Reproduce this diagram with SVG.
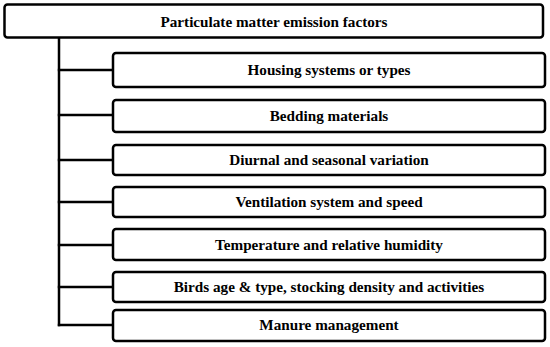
<svg xmlns="http://www.w3.org/2000/svg" width="550" height="347" viewBox="0 0 550 347">
<style>
.box{fill:#fff;stroke:#000;stroke-width:2.5}
.lbl{font-family:"Liberation Serif",serif;font-weight:bold;font-size:15.2px;fill:#000;text-anchor:middle}
.con{stroke:#000;stroke-width:2.5;fill:none}
</style>
<rect width="550" height="347" fill="#fff"/>
<g id="connectors">
<line class="con" x1="59" y1="37" x2="59" y2="326.2"/>
<line class="con" x1="57.8" y1="70" x2="113" y2="70"/>
<line class="con" x1="57.8" y1="115" x2="113" y2="115"/>
<line class="con" x1="57.8" y1="160" x2="113" y2="160"/>
<line class="con" x1="57.8" y1="202" x2="113" y2="202"/>
<line class="con" x1="57.8" y1="245" x2="113" y2="245"/>
<line class="con" x1="57.8" y1="287" x2="113" y2="287"/>
<line class="con" x1="57.8" y1="325" x2="113" y2="325"/>
</g>
<g id="root">
<rect class="box" x="4.5" y="4.5" width="538.5" height="33" rx="3"/>
<text class="lbl" x="274" y="26.5">Particulate matter emission factors</text>
</g>
<g id="n1">
<rect class="box" x="113" y="53" width="432" height="34" rx="3"/>
<text class="lbl" x="329" y="75">Housing systems or types</text>
</g>
<g id="n2">
<rect class="box" x="113" y="100" width="432" height="32" rx="3"/>
<text class="lbl" x="329" y="120.5">Bedding materials</text>
</g>
<g id="n3">
<rect class="box" x="113" y="145" width="432" height="30" rx="3"/>
<text class="lbl" x="329" y="165">Diurnal and seasonal variation</text>
</g>
<g id="n4">
<rect class="box" x="113" y="187" width="432" height="30" rx="3"/>
<text class="lbl" x="329" y="207">Ventilation system and speed</text>
</g>
<g id="n5">
<rect class="box" x="113" y="229" width="432" height="31" rx="3"/>
<text class="lbl" x="329" y="249.5">Temperature and relative humidity</text>
</g>
<g id="n6">
<rect class="box" x="113" y="272" width="432" height="30" rx="3"/>
<text class="lbl" x="329" y="291.5">Birds age &amp; type, stocking density and activities</text>
</g>
<g id="n7">
<rect class="box" x="113" y="310" width="432" height="31" rx="3"/>
<text class="lbl" x="329" y="330">Manure management</text>
</g>
</svg>
